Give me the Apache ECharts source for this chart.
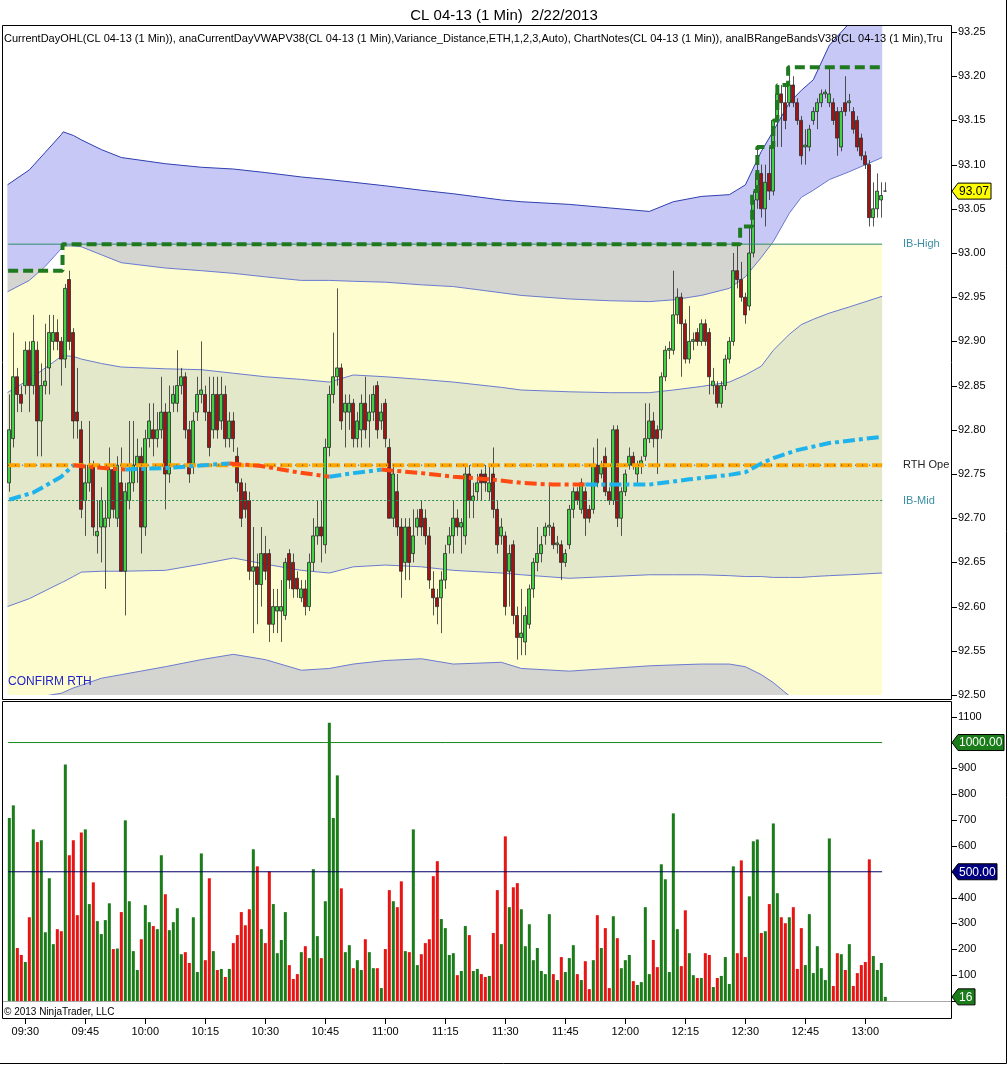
<!DOCTYPE html>
<html><head><meta charset="utf-8">
<script src="https://cdn.jsdelivr.net/npm/echarts@6/dist/echarts.min.js"></script>
<style>html,body{margin:0;padding:0;background:#fff;}#c{width:1008px;height:1065px;}</style>
</head><body><div id="c"></div>
<script>
// ---------- DATA ----------
const firstBarMinute = 9 * 60 + 26; // 09:26
const candleOpen = [
92.74,92.79,92.86,92.84,92.85,92.89,92.85,92.89,92.81,92.85,
92.87,92.90,92.91,92.90,92.88,92.97,92.91,92.82,92.80,92.72,
92.74,92.76,92.68,92.69,92.69,92.70,92.755,92.70,92.74,92.64,
92.72,92.74,92.76,92.77,92.69,92.79,92.80,92.79,92.80,92.82,
92.75,92.83,92.83,92.85,92.86,92.80,92.76,92.82,92.84,92.84,
92.82,92.80,92.84,92.81,92.84,92.79,92.81,92.77,92.74,92.73,
92.72,92.64,92.645,92.625,92.66,92.66,92.58,92.595,92.595,92.59,
92.66,92.65,92.632,92.61,92.62,92.60,92.65,92.68,92.69,92.67,
92.78,92.84,92.86,92.87,92.82,92.82,92.83,92.79,92.80,92.83,
92.81,92.82,92.85,92.81,92.83,92.78,92.70,92.73,92.69,92.65,
92.69,92.66,92.69,92.71,92.70,92.68,92.62,92.61,92.61,92.63,
92.67,92.68,92.70,92.69,92.68,92.75,92.72,92.73,92.75,92.75,
92.73,92.75,92.71,92.68,92.68,92.64,92.67,92.59,92.565,92.56,
92.58,92.62,92.65,92.66,92.68,92.69,92.69,92.67,92.67,92.65,
92.67,92.71,92.73,92.71,92.73,92.71,92.71,92.76,92.75,92.77,
92.73,92.72,92.80,92.70,92.73,92.76,92.77,92.75,92.76,92.77,
92.79,92.81,92.80,92.80,92.86,92.89,92.89,92.93,92.95,92.92,
92.88,92.90,92.91,92.90,92.92,92.91,92.85,92.85,92.83,92.85,
92.88,92.90,92.98,92.97,92.95,92.94,93.00,93.06,93.09,93.05,
93.09,93.07,93.15,93.18,93.17,93.17,93.19,93.17,93.15,93.12,
93.12,93.15,93.16,93.17,93.18,93.17,93.17,93.16,93.12,93.17,
93.17,93.16,93.15,93.13,93.11,93.10,93.04,93.05,93.06,93.07];
const candleClose = [
92.80,92.86,92.84,92.83,92.89,92.85,92.90,92.81,92.85,92.855,
92.91,92.91,92.90,92.88,92.96,92.90,92.81,92.81,92.71,92.74,
92.76,92.69,92.685,92.72,92.70,92.755,92.71,92.76,92.64,92.73,
92.74,92.76,92.77,92.69,92.79,92.81,92.79,92.80,92.82,92.75,
92.82,92.84,92.85,92.86,92.80,92.75,92.81,92.84,92.845,92.82,
92.78,92.84,92.80,92.84,92.79,92.81,92.79,92.74,92.70,92.71,
92.64,92.645,92.625,92.66,92.64,92.58,92.60,92.60,92.60,92.65,
92.63,92.62,92.62,92.62,92.60,92.65,92.68,92.69,92.68,92.78,
92.84,92.86,92.87,92.81,92.83,92.83,92.79,92.81,92.83,92.80,
92.82,92.84,92.80,92.82,92.79,92.70,92.75,92.69,92.64,92.69,
92.65,92.68,92.70,92.69,92.68,92.63,92.61,92.60,92.63,92.66,
92.68,92.70,92.69,92.695,92.75,92.72,92.725,92.74,92.74,92.74,
92.74,92.71,92.67,92.69,92.60,92.66,92.59,92.565,92.57,92.59,
92.62,92.65,92.66,92.67,92.69,92.692,92.67,92.672,92.65,92.66,
92.71,92.73,92.72,92.74,92.70,92.70,92.76,92.74,92.76,92.73,
92.72,92.80,92.70,92.73,92.75,92.77,92.76,92.76,92.765,92.79,
92.81,92.79,92.79,92.86,92.89,92.892,92.93,92.95,92.92,92.88,
92.90,92.902,92.90,92.92,92.90,92.86,92.855,92.83,92.85,92.88,
92.90,92.98,92.97,92.95,92.93,93.00,93.06,93.09,93.05,93.08,
93.07,93.15,93.18,93.17,93.15,93.19,93.17,93.15,93.11,93.122,
93.14,93.16,93.17,93.18,93.182,93.18,93.15,93.13,93.16,93.16,
93.172,93.14,93.12,93.11,93.10,93.04,93.05,93.07,93.065,93.07];
const candleHigh = [
92.84,92.91,92.87,92.85,92.90,92.90,92.93,92.90,92.875,92.92,
92.93,92.93,92.925,92.905,92.965,92.98,92.915,92.87,92.81,92.76,
92.81,92.765,92.72,92.735,92.72,92.78,92.76,92.77,92.78,92.74,
92.81,92.81,92.79,92.78,92.80,92.83,92.83,92.82,92.86,92.83,
92.85,92.85,92.89,92.87,92.865,92.81,92.82,92.86,92.90,92.85,
92.86,92.86,92.86,92.86,92.85,92.82,92.82,92.78,92.745,92.74,
92.73,92.69,92.66,92.69,92.68,92.665,92.62,92.62,92.63,92.655,
92.665,92.66,92.64,92.63,92.63,92.66,92.70,92.72,92.72,92.79,
92.85,92.91,92.96,92.875,92.84,92.84,92.835,92.82,92.84,92.86,
92.84,92.85,92.855,92.83,92.835,92.79,92.76,92.75,92.70,92.70,
92.70,92.71,92.71,92.72,92.71,92.69,92.64,92.62,92.64,92.67,
92.69,92.72,92.71,92.70,92.76,92.76,92.74,92.75,92.755,92.76,
92.76,92.78,92.72,92.70,92.685,92.67,92.675,92.60,92.62,92.60,
92.625,92.655,92.69,92.68,92.695,92.74,92.695,92.68,92.675,92.665,
92.715,92.735,92.735,92.745,92.735,92.715,92.78,92.79,92.765,92.78,
92.735,92.805,92.805,92.735,92.755,92.78,92.775,92.765,92.77,92.83,
92.83,92.82,92.805,92.865,92.895,92.90,92.98,92.96,92.955,92.925,
92.94,92.91,92.915,92.925,92.925,92.915,92.87,92.855,92.855,92.885,
92.905,93.00,93.01,92.99,92.955,93.03,93.07,93.12,93.10,93.10,
93.12,93.15,93.19,93.19,93.19,93.21,93.20,93.175,93.155,93.14,
93.145,93.165,93.175,93.185,93.185,93.21,93.175,93.165,93.165,93.20,
93.18,93.165,93.155,93.135,93.115,93.105,93.08,93.09,93.08,93.08];
const candleLow = [
92.73,92.78,92.82,92.82,92.84,92.82,92.84,92.77,92.77,92.84,
92.84,92.89,92.89,92.85,92.87,92.89,92.79,92.79,92.70,92.68,
92.73,92.68,92.66,92.65,92.62,92.69,92.70,92.69,92.64,92.59,
92.71,92.73,92.74,92.66,92.68,92.78,92.77,92.78,92.79,92.71,
92.74,92.82,92.82,92.84,92.79,92.74,92.75,92.81,92.83,92.81,
92.77,92.79,92.79,92.80,92.78,92.78,92.775,92.73,92.69,92.70,
92.63,92.57,92.58,92.60,92.63,92.56,92.57,92.57,92.56,92.585,
92.62,92.61,92.61,92.605,92.59,92.595,92.64,92.67,92.65,92.66,
92.77,92.83,92.85,92.80,92.78,92.80,92.78,92.78,92.78,92.79,
92.78,92.81,92.79,92.80,92.78,92.70,92.69,92.68,92.61,92.63,
92.63,92.65,92.68,92.68,92.67,92.62,92.59,92.58,92.57,92.62,
92.66,92.66,92.68,92.66,92.67,92.70,92.70,92.72,92.72,92.73,
92.72,92.70,92.66,92.67,92.59,92.60,92.58,92.54,92.545,92.545,
92.575,92.61,92.64,92.65,92.67,92.68,92.665,92.66,92.63,92.645,
92.665,92.70,92.715,92.705,92.68,92.695,92.705,92.735,92.745,92.725,
92.715,92.715,92.69,92.68,92.725,92.755,92.755,92.74,92.75,92.765,
92.785,92.78,92.75,92.79,92.855,92.88,92.885,92.92,92.86,92.875,
92.875,92.89,92.895,92.895,92.895,92.84,92.84,92.825,92.825,92.845,
92.875,92.895,92.96,92.945,92.92,92.935,92.995,93.05,93.04,93.03,
93.06,93.065,93.12,93.12,93.14,93.165,93.165,93.145,93.10,93.10,
93.115,93.145,93.14,93.165,93.175,93.165,93.145,93.11,93.115,93.155,
93.16,93.135,93.115,93.105,93.095,93.03,93.03,93.04,93.04,93.07];
const volumes = [
708,757,205,178,151,324,664,615,622,266,
475,220,278,270,915,564,622,332,652,664,
375,459,309,259,313,378,201,203,344,699,
386,193,120,239,371,305,290,278,564,413,
274,305,359,181,189,147,324,112,571,158,
475,193,120,124,93,124,224,255,344,293,
355,587,521,278,224,501,375,185,236,344,
139,85,104,189,212,166,510,251,166,386,
1077,708,873,436,189,216,127,158,120,239,
189,127,127,50,201,429,386,363,463,193,
189,664,139,181,224,239,483,541,317,282,
178,185,100,116,290,255,116,124,104,93,
97,263,429,220,637,363,440,456,355,212,
297,158,205,116,104,336,104,81,170,112,
166,216,104,81,154,46,158,332,205,282,
50,328,243,127,158,178,77,62,73,363,
104,236,131,529,471,112,726,278,135,351,
185,100,89,89,185,178,54,89,97,170,
66,521,185,544,170,405,618,625,263,270,
375,687,417,324,301,324,363,124,282,139,
336,108,212,127,81,629,58,185,181,120,
220,58,108,139,151,548,174,120,147,16];

// VWAP variance bands, read at these bar positions
const bandX    = [-0.5,5,9,13,13.45,13.5,16,18,23,28,39,48,56,64,73,80,86,94,103,111,123,128,140,150,160,166,173,180,184,188,191,195,198,201,205,210,218.2];
const band3Up  = [93.077,93.094,93.114,93.134,93.137,93.137,93.133,93.128,93.117,93.108,93.101,93.097,93.095,93.091,93.086,93.083,93.080,93.076,93.071,93.067,93.060,93.058,93.055,93.051,93.047,93.058,93.064,93.066,93.077,93.115,93.138,93.170,93.184,93.196,93.235,93.26,93.29];
const band2Up  = [92.956,92.969,92.985,93.005,93.008,93.008,93.008,93.007,92.998,92.989,92.983,92.980,92.977,92.973,92.969,92.969,92.968,92.967,92.964,92.962,92.955,92.952,92.948,92.946,92.945,92.947,92.952,92.960,92.973,92.995,93.013,93.045,93.063,93.071,93.083,93.092,93.108];
const band1Up  = [92.842,92.857,92.870,92.883,92.884,92.884,92.883,92.880,92.875,92.871,92.869,92.868,92.864,92.860,92.857,92.854,92.862,92.860,92.857,92.854,92.848,92.845,92.843,92.842,92.842,92.845,92.849,92.854,92.862,92.872,92.890,92.908,92.919,92.925,92.932,92.939,92.951];
const band1Dn  = [92.600,92.609,92.618,92.627,92.628,92.628,92.634,92.639,92.640,92.640,92.641,92.648,92.655,92.648,92.641,92.638,92.645,92.647,92.645,92.641,92.638,92.636,92.632,92.634,92.636,92.636,92.636,92.635,92.634,92.634,92.633,92.633,92.633,92.634,92.635,92.636,92.638];
const band2Dn  = [92.470,92.485,92.499,92.502,92.503,92.503,92.508,92.511,92.519,92.523,92.532,92.540,92.546,92.540,92.528,92.530,92.535,92.539,92.541,92.535,92.537,92.530,92.527,92.530,92.533,92.534,92.535,92.535,92.532,92.523,92.514,92.499,92.490,92.480,92.470,92.460,92.440];
const ibHighRunning = [92.98,92.98,92.98,92.98,92.98,93.01,93.01,93.01,93.01,93.01,93.01,93.01,93.01,93.01,93.01,93.01,93.01,93.01,93.01,93.01,93.01,93.01,93.01,93.01,93.01,93.01,93.01,93.01,93.01,93.01,93.01,93.01,93.01,93.01,93.01,93.01,93.01];

// VWAP (bar position, price) and its colour segments
const vwapPoints = [[0,92.721],[6,92.729],[13,92.747],[16,92.760],[20,92.758],[29,92.755],[40,92.757],[55,92.762],[63,92.759],[72,92.752],[80,92.747],[86,92.751],[93,92.755],[103,92.751],[111,92.747],[120,92.744],[128,92.740],[136,92.738],[144,92.738],[160,92.738],[170,92.744],[180,92.749],[184,92.752],[188,92.762],[191,92.768],[197,92.777],[205,92.785],[218,92.792]];
const vwapSegments = [[0,16,'up'],[16,29,'dn'],[29,55,'up'],[55,80,'dn'],[80,93,'up'],[93,144,'dn'],[144,218,'up']];

// current-day high (steps)
const dayHighSteps = [[-0.3,92.98],[13.3,93.01],[182.7,93.03],[185.7,93.07],[187,93.12],[191,93.15],[192,93.19],[194.7,93.21],[218.2,93.21]];

const ibHighLevel = 93.01, ibMidLevel = 92.72, rthOpenLevel = 92.76;
const lineStartX = -0.3, lineEndX = 218.2;
const volLevels = [1000, 500];
const priceAxis = { min: 92.50, max: 93.25, step: 0.05 };
const volAxis = { min: 0, max: 1100, step: 100 };
const lastPrice = 93.07;

// ---------- CHART ----------
const FONT = '"Liberation Sans", Arial, sans-serif';
const times = candleOpen.map((_, k) => {
  const m = firstBarMinute + k;
  return String(Math.floor(m / 60)).padStart(2, '0') + ':' + String(m % 60).padStart(2, '0');
});
const showTime = (i) => (i + 26) % 15 === 0;

const C_YEL = '#fdfdcf', C_GRN = '#e2e8c9', C_GRY = '#d4d4d0', C_BLU = '#c8c8f6';

function renderBands(params, api) {
  const cs = params.coordSys;
  const pt = (x, y) => api.coord([x, y]);
  const floor = bandX.map(() => 92.3);
  const poly = (up, lo, fill) => {
    const pts = [];
    for (let i = 0; i < bandX.length; i++) pts.push(pt(bandX[i], up[i]));
    for (let i = bandX.length - 1; i >= 0; i--) pts.push(pt(bandX[i], lo[i]));
    return { type: 'polygon', shape: { points: pts }, style: { fill: fill } };
  };
  const line = (arr, stroke, w) => ({ type: 'polyline', shape: { points: bandX.map((x, i) => pt(x, arr[i])) }, style: { stroke: stroke, lineWidth: w, fill: null } });
  const blueLo = band2Up.map((v, i) => Math.max(v, ibHighRunning[i]));
  const blueUp = band3Up.map((v, i) => Math.max(v, ibHighRunning[i]));
  return {
    type: 'group',
    clipPath: { type: 'rect', shape: { x: cs.x, y: cs.y - 6, width: cs.width, height: cs.height + 6 } },
    children: [
      poly(ibHighRunning, floor, C_YEL),
      poly(band3Up, band2Up, C_GRY),
      poly(blueUp, blueLo, C_BLU),
      poly(band1Up, band1Dn, C_GRN),
      poly(band2Dn, floor, C_GRY),
      line(band3Up, '#2f3fb0', 1),
      line(band2Up, '#6a7ad0', 1),
      line(band1Up, '#6a7ad0', 1),
      line(band1Dn, '#6a7ad0', 1),
      line(band2Dn, '#6a7ad0', 1)
    ]
  };
}

const chart = echarts.init(document.getElementById('c'), null, { renderer: 'canvas' });
const GL = 7.33, GW = 880, AXOFF = 952 - (GL + GW);

const series = [];
series.push({ type: 'custom', name: 'bands', xAxisIndex: 2, yAxisIndex: 0, data: [[0, 92.8]], renderItem: renderBands, silent: true, z: 1 });
series.push({
  type: 'candlestick', xAxisIndex: 0, yAxisIndex: 0, barWidth: 3.4, z: 3, silent: true,
  data: candleOpen.map((o, k) => [o, candleClose[k], candleLow[k], candleHigh[k]]),
  itemStyle: { color: '#44d044', color0: '#a01414', borderColor: '#2a2a2a', borderColor0: '#2a2a2a', borderWidth: 0.8 }
});
const flat = (v, color, w, type, z) => ({ type: 'line', xAxisIndex: 2, yAxisIndex: 0, data: [[lineStartX, v], [lineEndX, v]], symbol: 'none', silent: true, z: z, lineStyle: { color: color, width: w, type: type } });
series.push(flat(ibHighLevel, '#2e8b6b', 1, 'solid', 4));
series.push(flat(ibMidLevel, '#2e8b57', 1, [2, 2], 4));
series.push(flat(rthOpenLevel, '#ffa500', 4, [12, 4], 5));
series.push(flat(rthOpenLevel, '#333333', 1, [1, 6], 6));
series.push({ type: 'line', xAxisIndex: 2, yAxisIndex: 0, data: dayHighSteps, step: 'end', symbol: 'none', silent: true, z: 6, lineStyle: { color: '#1f7a1f', width: 4, type: [10, 5] } });
vwapSegments.forEach(([a, b, dir]) => {
  series.push({
    type: 'line', xAxisIndex: 2, yAxisIndex: 0, symbol: 'none', silent: true, z: 7,
    data: vwapPoints.filter(p => p[0] >= a && p[0] <= b),
    lineStyle: { color: dir === 'up' ? '#1fb3ee' : '#ff4a12', width: 4, type: [12, 4, 4, 4] }
  });
});
series.push({
  type: 'bar', xAxisIndex: 1, yAxisIndex: 1, barWidth: 3, silent: true, z: 3,
  data: volumes.map((v, k) => ({ value: v, itemStyle: { color: candleClose[k] >= candleOpen[k] ? '#1a7d1a' : '#e81515' } }))
});
series.push({ type: 'line', xAxisIndex: 3, yAxisIndex: 1, data: [[lineStartX, volLevels[0]], [lineEndX, volLevels[0]]], symbol: 'none', silent: true, z: 4, lineStyle: { color: '#1a8a1a', width: 1 } });
series.push({ type: 'line', xAxisIndex: 3, yAxisIndex: 1, data: [[lineStartX, volLevels[1]], [lineEndX, volLevels[1]]], symbol: 'none', silent: true, z: 4, lineStyle: { color: '#000066', width: 1 } });

chart.setOption({
  animation: false,
  backgroundColor: '#ffffff',
  title: { text: 'CL 04-13 (1 Min)  2/22/2013', left: 'center', top: 3, textStyle: { fontSize: 15, fontWeight: 'normal', color: '#000', fontFamily: FONT } },
  grid: [
    { left: GL, width: GW, top: 32, height: 663 },
    { left: GL, width: GW, top: 716.7, height: 284.3 }
  ],
  xAxis: [
    { type: 'category', gridIndex: 0, data: times, show: false },
    { type: 'category', gridIndex: 1, data: times, offset: 18,
      axisLine: { show: false }, axisTick: { show: false },
      axisLabel: { interval: (i) => showTime(i), color: '#000', fontSize: 11, fontFamily: FONT, margin: 7 } },
    { type: 'value', gridIndex: 0, min: -0.5, max: 219.5, show: false },
    { type: 'value', gridIndex: 1, min: -0.5, max: 219.5, show: false }
  ],
  yAxis: [
    { type: 'value', gridIndex: 0, position: 'right', offset: AXOFF, min: priceAxis.min, max: priceAxis.max, interval: priceAxis.step,
      axisLine: { show: false }, splitLine: { show: false }, axisTick: { show: false },
      axisLabel: { color: '#000', fontSize: 11, fontFamily: FONT, margin: 6, formatter: (v) => v.toFixed(2) } },
    { type: 'value', gridIndex: 1, position: 'right', offset: AXOFF, min: volAxis.min, max: volAxis.max, interval: volAxis.step,
      axisLine: { show: false }, splitLine: { show: false }, axisTick: { show: false },
      axisLabel: { color: '#000', fontSize: 11, fontFamily: FONT, margin: 6, showMinLabel: false,
        formatter: (v) => (volLevels.indexOf(v) >= 0 ? '' : String(v)) } }
  ],
  series: series
});

// ---------- DECORATIONS ----------
const yP = (v) => chart.convertToPixel({ yAxisIndex: 0 }, v);
const yV = (v) => chart.convertToPixel({ yAxisIndex: 1 }, v);
const xK = (k) => chart.convertToPixel({ xAxisIndex: 3 }, k);
function tag(y, text, fill, color, w) {
  return { type: 'group', z: 100, children: [
    { type: 'polygon', z: 100, shape: { points: [[952, y], [958, y - 8], [958 + w, y - 8], [958 + w, y + 8], [958, y + 8]] }, style: { fill: fill, stroke: '#000', lineWidth: 1 } },
    { type: 'text', z: 101, x: 959, y: y + 0.5, style: { text: text, fill: color, font: '12px ' + FONT, verticalAlign: 'middle' } }
  ] };
}
const txt = (x, y, text, fill, size, extra) => Object.assign({ type: 'text', x: x, y: y, z: 100, style: Object.assign({ text: text, fill: fill, font: size + 'px ' + FONT, verticalAlign: 'middle' }, extra || {}) });
const hl = (x1, x2, y, color) => ({ type: 'line', z: 95, shape: { x1: x1, y1: y, x2: x2, y2: y }, style: { stroke: color, lineWidth: 1 } });
const vl = (x, y1, y2, color) => ({ type: 'line', z: 95, shape: { x1: x, y1: y1, x2: x, y2: y2 }, style: { stroke: color, lineWidth: 1 } });

const ticks = [];
for (let v = priceAxis.min; v <= priceAxis.max + 1e-9; v += priceAxis.step) ticks.push(hl(952, 957, Math.round(yP(v)) + 0.5, '#000'));
for (let v = volAxis.min; v <= volAxis.max; v += volAxis.step) ticks.push(hl(952, 957, Math.round(yV(v)) + 0.5, '#000'));
for (let k = 0; k < times.length; k++) if (showTime(k)) ticks.push(vl(Math.round(xK(k)) + 0.5, 1019, 1024, '#000'));

const zeroY = yV(0);
chart.setOption({
  graphic: ticks.concat([
    { type: 'rect', z: 90, shape: { x: 2.5, y: 25.5, width: 949, height: 674 }, style: { fill: null, stroke: '#000', lineWidth: 1 } },
    { type: 'rect', z: 90, shape: { x: 2.5, y: 701.5, width: 949, height: 317 }, style: { fill: null, stroke: '#000', lineWidth: 1 } },
    vl(1006.5, 0, 1063.5, '#000'),
    hl(0, 1006.5, 1063.5, '#000'),
    { type: 'line', z: 2, shape: { x1: 3, y1: Math.round(zeroY) + 0.5, x2: 951, y2: Math.round(zeroY) + 0.5 }, style: { stroke: '#a8a8a8', lineWidth: 1 } },
    txt(4, 39, 'CurrentDayOHL(CL 04-13 (1 Min)), anaCurrentDayVWAPV38(CL 04-13 (1 Min),Variance_Distance,ETH,1,2,3,Auto), ChartNotes(CL 04-13 (1 Min)), anaIBRangeBandsV38(CL 04-13 (1 Min),Tru', '#000', 11, { width: 946, overflow: 'truncate', ellipsis: '' }),
    txt(8, 682, 'CONFIRM RTH', '#2323c8', 12),
    txt(903, yP(ibHighLevel), 'IB-High', '#3b8ea5', 11),
    txt(903, yP(rthOpenLevel), 'RTH Ope', '#222', 11),
    txt(903, yP(ibMidLevel), 'IB-Mid', '#3b8ea5', 11),
    txt(4, 1012, '\u00a9 2013 NinjaTrader, LLC', '#000', 10),
    tag(yP(lastPrice), lastPrice.toFixed(2), '#ffff00', '#000', 33),
    tag(yV(volLevels[0]), volLevels[0].toFixed(2), '#1a7d1a', '#fff', 46),
    tag(yV(volLevels[1]), volLevels[1].toFixed(2), '#000080', '#fff', 39),
    tag(yV(volumes[volumes.length - 1]), String(volumes[volumes.length - 1]), '#1a7d1a', '#fff', 17)
  ])
});
</script></body></html>
